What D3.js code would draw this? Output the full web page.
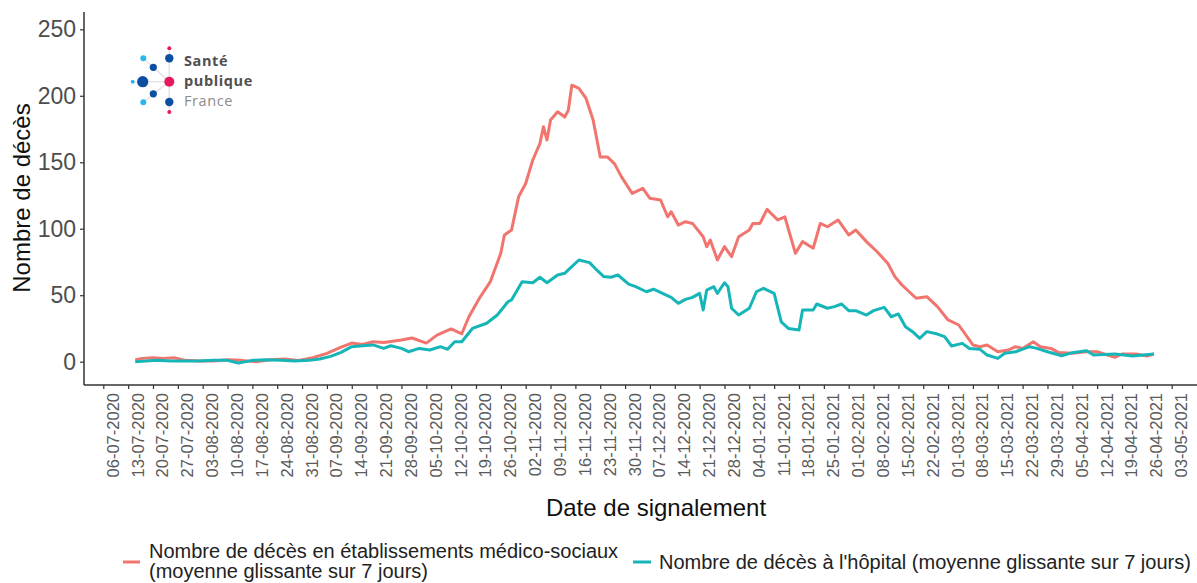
<!DOCTYPE html>
<html>
<head>
<meta charset="utf-8">
<script src="https://cdn.jsdelivr.net/npm/d3@7"></script>
<style>
  body { margin: 0; background: #fff; }
  svg { display: block; font-family: "Liberation Sans", Arial, sans-serif; }
</style>
</head>
<body>
<div id="chart"></div>
<script>
// Data (7-day rolling averages)

var tickLabels = ["06-07-2020","13-07-2020","20-07-2020","27-07-2020","03-08-2020","10-08-2020",
  "17-08-2020","24-08-2020","31-08-2020","07-09-2020","14-09-2020","21-09-2020","28-09-2020",
  "05-10-2020","12-10-2020","19-10-2020","26-10-2020","02-11-2020","09-11-2020","16-11-2020",
  "23-11-2020","30-11-2020","07-12-2020","14-12-2020","21-12-2020","28-12-2020","04-01-2021",
  "11-01-2021","18-01-2021","25-01-2021","01-02-2021","08-02-2021","15-02-2021","22-02-2021",
  "01-03-2021","08-03-2021","15-03-2021","22-03-2021","29-03-2021","05-04-2021","12-04-2021",
  "19-04-2021","26-04-2021","03-05-2021"];

var yTicks = [0, 50, 100, 150, 200, 250];

var seriesNames = [
  ["Nombre de décès en établissements médico-sociaux", "(moyenne glissante sur 7 jours)"],
  ["Nombre de décès à l'hôpital (moyenne glissante sur 7 jours)"]
];

// établissements médico-sociaux
var emsDates = ["2020-07-15","2020-07-17","2020-07-20","2020-07-23","2020-07-26","2020-07-29",
  "2020-08-02","2020-08-06","2020-08-10","2020-08-14","2020-08-18","2020-08-22","2020-08-26",
  "2020-08-30","2020-09-03","2020-09-07","2020-09-11","2020-09-14","2020-09-17","2020-09-20",
  "2020-09-23","2020-09-28","2020-10-01","2020-10-05","2020-10-08","2020-10-12","2020-10-15",
  "2020-10-17","2020-10-20","2020-10-23","2020-10-26","2020-10-27","2020-10-29","2020-10-31",
  "2020-11-02","2020-11-04","2020-11-06","2020-11-07","2020-11-08","2020-11-09","2020-11-11",
  "2020-11-13","2020-11-14","2020-11-15","2020-11-17","2020-11-19","2020-11-21","2020-11-23",
  "2020-11-25","2020-11-27","2020-11-29","2020-12-02","2020-12-05","2020-12-07","2020-12-10",
  "2020-12-12","2020-12-13","2020-12-15","2020-12-17","2020-12-19","2020-12-22","2020-12-23",
  "2020-12-24","2020-12-26","2020-12-28","2020-12-30","2021-01-01","2021-01-04","2021-01-05",
  "2021-01-07","2021-01-09","2021-01-12","2021-01-14","2021-01-17","2021-01-19","2021-01-22",
  "2021-01-24","2021-01-26","2021-01-29","2021-02-01","2021-02-03","2021-02-06","2021-02-09",
  "2021-02-12","2021-02-14","2021-02-16","2021-02-20","2021-02-23","2021-02-26","2021-03-01",
  "2021-03-04","2021-03-08","2021-03-10","2021-03-12","2021-03-15","2021-03-18","2021-03-20",
  "2021-03-22","2021-03-25","2021-03-27","2021-03-30","2021-04-01","2021-04-05","2021-04-09",
  "2021-04-12","2021-04-17","2021-04-19","2021-04-23","2021-04-26","2021-04-28"];
var emsValues = [1.5, 2.5, 3, 2.5, 3, 1,
  0.5, 0.5, 1.5, 1, 0, 1.5, 2,
  1, 3, 6.3, 11, 14, 13, 15,
  14.5, 16.3, 17.8, 14, 20, 24.6, 21,
  33.8, 47.9, 60, 81.7, 95.3, 99, 124,
  134, 151.7, 164, 176.7, 166.7, 181.8, 188,
  184, 189, 208, 205.6, 198, 181.8, 154,
  154, 149, 139, 126.6, 130.4, 122.9, 121.6,
  109, 112.8, 102.8, 105.3, 104, 94, 86.5,
  91.5, 76.5, 86.5, 79, 94, 99, 104,
  104, 114.6, 106.6, 109, 81.5, 90.3, 85.3,
  104, 101.5, 106.6, 95.3, 99, 90.3, 82.7,
  74, 64, 57.7, 47.7, 48.9, 41.4, 31.4,
  27.6, 12.6, 11.3, 12.6, 7.5, 8.8, 11.3,
  10, 15, 11.3, 10, 7, 6.3, 7.5,
  7.5, 3.3, 5.8, 5.8, 4.3, 5.8];

// hôpital
var hopDates = ["2020-07-15","2020-07-18","2020-07-21","2020-07-25","2020-07-29","2020-08-02",
  "2020-08-06","2020-08-10","2020-08-13","2020-08-17","2020-08-21","2020-08-25","2020-08-29",
  "2020-09-02","2020-09-05","2020-09-08","2020-09-11","2020-09-14","2020-09-17","2020-09-20",
  "2020-09-23","2020-09-25","2020-09-28","2020-09-30","2020-10-03","2020-10-06","2020-10-09",
  "2020-10-11","2020-10-13","2020-10-15","2020-10-18","2020-10-22","2020-10-25","2020-10-28",
  "2020-10-29","2020-11-01","2020-11-04","2020-11-06","2020-11-08","2020-11-11","2020-11-13",
  "2020-11-14","2020-11-17","2020-11-20","2020-11-22","2020-11-24","2020-11-26","2020-11-28",
  "2020-12-01","2020-12-03","2020-12-06","2020-12-08","2020-12-11","2020-12-13","2020-12-15",
  "2020-12-17","2020-12-19","2020-12-21","2020-12-22","2020-12-23","2020-12-25","2020-12-26",
  "2020-12-28","2020-12-29","2020-12-30","2021-01-01","2021-01-04","2021-01-06","2021-01-08",
  "2021-01-11","2021-01-13","2021-01-15","2021-01-18","2021-01-19","2021-01-22","2021-01-23",
  "2021-01-26","2021-01-28","2021-01-30","2021-02-01","2021-02-03","2021-02-06","2021-02-08",
  "2021-02-11","2021-02-13","2021-02-15","2021-02-17","2021-02-19","2021-02-21","2021-02-23",
  "2021-02-26","2021-02-28","2021-03-02","2021-03-05","2021-03-07","2021-03-10","2021-03-12",
  "2021-03-15","2021-03-17","2021-03-20","2021-03-24","2021-03-26","2021-03-29","2021-04-02",
  "2021-04-05","2021-04-09","2021-04-11","2021-04-17","2021-04-22","2021-04-28"];
var hopValues = [0, 0.5, 1, 0.5, 0.5, 0.5,
  1, 1, -1, 1, 1.5, 1, 0.5,
  1, 2, 4, 7, 11.3, 12, 12.6,
  10, 12, 10, 7.5, 10, 8.8, 11.3,
  9.3, 15, 15, 25, 28.9, 35.1, 45.1,
  46.4, 60.2, 59.4, 63.5, 59.4, 65.2, 66.5,
  69, 76.5, 74.5, 69, 64, 63.5, 65.2,
  58.4, 56.4, 52.6, 54.5, 50.9, 48.4, 43.9,
  46.9, 48.4, 51.4, 38.9, 53.9, 56.4, 51.4,
  59.4, 56.4, 40.2, 35.1, 40.2, 52.6, 55.2,
  51.4, 30, 25, 23.8, 38.9, 38.9, 43.4,
  40.2, 41.4, 43.4, 38.4, 38.4, 35.1, 38.4,
  40.9, 33.8, 35.9, 26.3, 22.6, 17.6, 22.6,
  20.8, 18.8, 11.8, 13.8, 10, 9.3, 5,
  2.5, 6.3, 7.5, 11.3, 10, 7.5, 4.5,
  6.8, 8.3, 5, 5.8, 4.3, 5.8];

var colors = ["#F1756E", "#16B5B8"];

var svgWidth = 1197;
var svgHeight = 583;

var svg = d3.select("#chart")
  .append("svg")
  .attr("width", svgWidth)
  .attr("height", svgHeight);

var parseDay = d3.utcParse("%Y-%m-%d");
var parseTick = d3.utcParse("%d-%m-%Y");
var tickDates = tickLabels.map(parseTick);

// scales
var xScale = d3.scaleUtc()
  .domain([tickDates[0], tickDates[tickDates.length - 1]])
  .range([103.3, 1171.7]);

var yScale = d3.scaleLinear()
  .domain([0, 250])
  .range([361.7, 29.3]);

var panelLeft = 84, panelTop = 12, panelBottom = 385;

// x axis
var xAxis = d3.axisBottom(xScale)
  .tickValues(tickDates)
  .tickFormat(d3.utcFormat("%d-%m-%Y"))
  .tickSize(4)
  .tickSizeOuter(0);

var gx = svg.append("g")
  .attr("transform", `translate(0, ${panelBottom})`)
  .call(xAxis);
gx.select(".domain").remove();
gx.selectAll(".tick line").attr("stroke", "#333").attr("stroke-width", 1.2);
gx.selectAll(".tick text")
  .attr("fill", "#5a5a5a")
  .attr("font-size", 16.5)
  .attr("text-anchor", "end")
  .attr("transform", "translate(9, 8) rotate(-90)")
  .attr("x", 0)
  .attr("y", 0)
  .attr("dy", "0.36em");

svg.append("line")
  .attr("x1", panelLeft).attr("x2", svgWidth)
  .attr("y1", panelBottom).attr("y2", panelBottom)
  .attr("stroke", "#333").attr("stroke-width", 1.5);

// y axis
var yAxis = d3.axisLeft(yScale)
  .tickValues(yTicks)
  .tickSize(4)
  .tickPadding(4);

var gy = svg.append("g")
  .attr("transform", `translate(${panelLeft}, 0)`)
  .call(yAxis);
gy.select(".domain").remove();
gy.selectAll(".tick line").attr("stroke", "#333").attr("stroke-width", 1.2);
gy.selectAll(".tick text")
  .attr("fill", "#4d4d4d")
  .attr("font-size", 23);

svg.append("line")
  .attr("x1", panelLeft).attr("x2", panelLeft)
  .attr("y1", panelTop).attr("y2", panelBottom)
  .attr("stroke", "#333").attr("stroke-width", 1.5);

// lines
var line = d3.line()
  .x(d => xScale(d.date))
  .y(d => yScale(d.value));

var emsData = emsDates.map((d, i) => ({ date: parseDay(d), value: emsValues[i] }));
var hopData = hopDates.map((d, i) => ({ date: parseDay(d), value: hopValues[i] }));

[emsData, hopData].forEach(function(data, i) {
  svg.append("path")
    .datum(data)
    .attr("fill", "none")
    .attr("stroke", colors[i])
    .attr("stroke-width", 3)
    .attr("stroke-linejoin", "round")
    .attr("d", line);
});

// axis titles
svg.append("text")
  .attr("transform", "translate(30, 198) rotate(-90)")
  .attr("text-anchor", "middle")
  .attr("font-size", 24)
  .attr("fill", "#111")
  .text("Nombre de décès");

svg.append("text")
  .attr("x", 656)
  .attr("y", 516)
  .attr("text-anchor", "middle")
  .attr("font-size", 24)
  .attr("fill", "#111")
  .text("Date de signalement");

// legend
var legend = [
  { key: [123, 140], y: 562, tx: 149, ty: 558 },
  { key: [633, 651], y: 562, tx: 659, ty: 569 }
];

legend.forEach(function(l, i) {
  svg.append("line")
    .attr("x1", l.key[0]).attr("x2", l.key[1])
    .attr("y1", l.y).attr("y2", l.y)
    .attr("stroke", colors[i])
    .attr("stroke-width", 3);

  var t = svg.append("text")
    .attr("x", l.tx)
    .attr("y", l.ty)
    .attr("font-size", 20)
    .attr("fill", "#222");
  seriesNames[i].forEach(function(s, j) {
    t.append("tspan")
      .attr("x", l.tx)
      .attr("dy", j === 0 ? 0 : 20)
      .text(s);
  });
});

// Santé publique France logo
var logo = svg.append("g");
var hub = [169.3, 81.7];
var dots = [
  [143.3, 58.3, 3, "#2bb6ec"], [169.3, 58.3, 4.2, "#0b4ea2"], [169.3, 48.3, 2, "#e6175c"],
  [153.3, 67.3, 3.6, "#0b4ea2"], [132.7, 81.7, 2, "#2bb6ec"], [142.7, 81.7, 5.6, "#0b4ea2"],
  [153.3, 93.8, 3.6, "#0b4ea2"], [143.3, 102.3, 3, "#2bb6ec"],
  [169.3, 102, 4.2, "#0b4ea2"], [169.3, 112, 2, "#e6175c"]
];
dots.forEach(function(d) {
  logo.append("line")
    .attr("x1", hub[0]).attr("y1", hub[1])
    .attr("x2", d[0]).attr("y2", d[1])
    .attr("stroke", "#e4e4e4").attr("stroke-width", 1.2);
});
dots.forEach(function(d) {
  logo.append("circle")
    .attr("cx", d[0]).attr("cy", d[1]).attr("r", d[2])
    .attr("fill", d[3]);
});
logo.append("circle")
  .attr("cx", hub[0]).attr("cy", hub[1]).attr("r", 5)
  .attr("fill", "#e6175c");

var logoText = [["Santé", 66, "bold", "#505050"], ["publique", 86, "bold", "#505050"],
  ["France", 106, "normal", "#8c8c8c"]];
logoText.forEach(function(t) {
  logo.append("text").attr("x", 184).attr("y", t[1])
    .attr("font-family", "'Open Sans', sans-serif").attr("font-weight", t[2])
    .attr("font-size", 14.5).attr("letter-spacing", 0.6)
    .attr("fill", t[3]).text(t[0]);
});
</script>
</body>
</html>
